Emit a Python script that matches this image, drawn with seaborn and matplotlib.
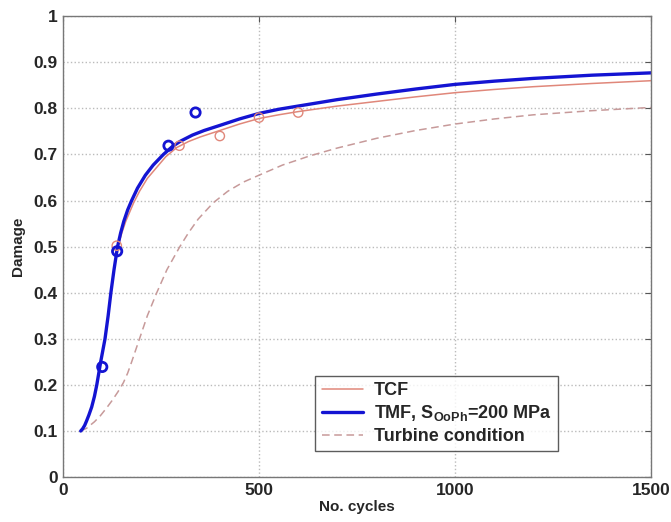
import numpy as np
import pandas as pd
import matplotlib
matplotlib.use('Agg')
import matplotlib.pyplot as plt
import seaborn as sns

# curve values
tmf_x = [45, 50, 55, 60, 66, 73, 80, 86, 96, 107, 115, 122, 130, 139, 147, 155, 165, 175, 190, 210, 230, 256,
         280, 300, 330, 360, 400, 450, 500, 550, 600, 700, 800, 900, 1000, 1100, 1200, 1350, 1500]
tmf_y = [0.10, 0.105, 0.112, 0.122, 0.135, 0.152, 0.175, 0.20, 0.25, 0.30, 0.35, 0.40, 0.45, 0.50, 0.53, 0.555,
         0.58, 0.60, 0.627, 0.655, 0.677, 0.70, 0.718, 0.729, 0.742, 0.752, 0.763, 0.777, 0.789, 0.798, 0.805,
         0.819, 0.831, 0.842, 0.852, 0.859, 0.865, 0.872, 0.877]

tcf_x = [45, 50, 55, 60, 66, 73, 80, 86, 96, 107, 115, 122, 130, 140, 150, 160, 170, 180, 195, 215, 235, 262,
         290, 320, 350, 400, 450, 500, 550, 600, 700, 800, 900, 1000, 1100, 1200, 1350, 1500]
tcf_y = [0.10, 0.105, 0.112, 0.122, 0.135, 0.152, 0.175, 0.20, 0.25, 0.30, 0.35, 0.40, 0.45, 0.50, 0.53, 0.555,
         0.575, 0.595, 0.62, 0.648, 0.668, 0.695, 0.715, 0.728, 0.738, 0.752, 0.766, 0.778, 0.786, 0.793,
         0.805, 0.815, 0.825, 0.834, 0.841, 0.847, 0.854, 0.860]

turb_x = [45, 60, 80, 95, 111, 125, 140, 154, 165, 175, 185, 195, 215, 239, 265, 298, 320, 345, 383, 420, 460,
          500, 560, 630, 700, 800, 900, 1000, 1100, 1200, 1350, 1500]
turb_y = [0.10, 0.106, 0.12, 0.133, 0.15, 0.166, 0.185, 0.205, 0.226, 0.25, 0.275, 0.30, 0.35, 0.40, 0.45, 0.50,
          0.53, 0.56, 0.595, 0.62, 0.64, 0.655, 0.677, 0.697, 0.714, 0.735, 0.752, 0.766, 0.777, 0.786, 0.795, 0.802]

# test points
tmf_pts_x = [100, 138, 269, 338]
tmf_pts_y = [0.239, 0.490, 0.719, 0.791]
tcf_pts_x = [137, 297, 400, 500, 600]
tcf_pts_y = [0.502, 0.719, 0.740, 0.780, 0.791]

x_ticks = [0, 500, 1000, 1500]
y_ticks = [0, 0.1, 0.2, 0.3, 0.4, 0.5, 0.6, 0.7, 0.8, 0.9, 1]
y_tick_labels = ['0', '0.1', '0.2', '0.3', '0.4', '0.5', '0.6', '0.7', '0.8', '0.9', '1']

blue = '#1414d2'
salmon = '#e0877a'
rosy = '#c79a9a'

sns.set_style('whitegrid')
plt.rcParams['font.family'] = ['Liberation Sans', 'DejaVu Sans']
plt.rcParams['font.weight'] = 'bold'
plt.rcParams['mathtext.fontset'] = 'custom'
plt.rcParams['mathtext.bf'] = 'Liberation Sans:bold'
plt.rcParams['mathtext.rm'] = 'Liberation Sans:bold'

fig = plt.figure(figsize=(6.71, 5.22), dpi=100)
ax = fig.add_axes([0.094, 0.086, 0.876, 0.883])

sns.lineplot(x=turb_x, y=turb_y, ax=ax, sort=False, color=rosy, lw=1.1,
             linestyle=(0, (5, 3)), label='Turbine condition')
sns.lineplot(x=tcf_x, y=tcf_y, ax=ax, sort=False, color=salmon, lw=1.1, label='TCF')
sns.lineplot(x=tmf_x, y=tmf_y, ax=ax, sort=False, color=blue, lw=2.4,
             label=r'TMF, S$_{\mathrm{OoPh}}$=200 MPa')

ax.scatter(tcf_pts_x, tcf_pts_y, s=45, facecolors='none', edgecolors=salmon, linewidths=1.0, zorder=3)
ax.scatter(tmf_pts_x, tmf_pts_y, s=45, facecolors='none', edgecolors=blue, linewidths=2.0, zorder=4)

ax.set_xlim(0, 1500)
ax.set_ylim(0, 1)
ax.set_xticks(x_ticks)
ax.set_yticks(y_ticks)
ax.set_yticklabels(y_tick_labels)
ax.tick_params(labelsize=12.5, direction='in', top=True, right=True, length=4,
               color='#555555', pad=4)
for lab in ax.get_xticklabels() + ax.get_yticklabels():
    lab.set_fontweight('bold')

ax.grid(True, color='#bbbbbb', linestyle=':', linewidth=1.0)
for s in ax.spines.values():
    s.set_color('#777777')
    s.set_linewidth(1.0)

ax.set_xlabel('No. cycles', fontsize=11, fontweight='bold', labelpad=2)
ax.set_ylabel('Damage', fontsize=11, fontweight='bold', labelpad=6)

h, l = ax.get_legend_handles_labels()
order = [1, 2, 0]
leg = ax.legend([h[i] for i in order], [l[i] for i in order],
                loc='lower left', bbox_to_anchor=(0.429, 0.056), borderaxespad=0,
                fontsize=13, frameon=True, fancybox=False, edgecolor='#333333',
                handlelength=2.3, labelspacing=0.25, borderpad=0.35, handletextpad=0.6)
leg.get_frame().set_linewidth(1.0)
for t in leg.get_texts():
    t.set_fontweight('bold')

plt.savefig('out.png', dpi=100)
